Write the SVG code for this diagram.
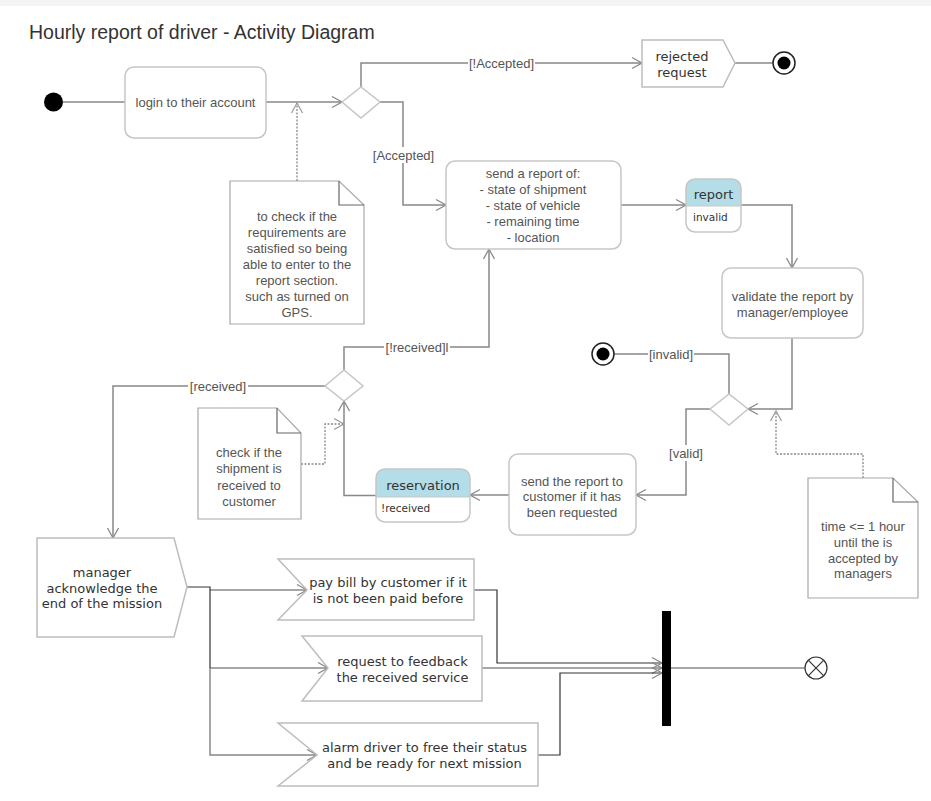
<svg xmlns="http://www.w3.org/2000/svg" width="931" height="801" viewBox="0 0 931 801">
<defs>
<marker id="arr" markerUnits="userSpaceOnUse" markerWidth="14" markerHeight="14" viewBox="0 0 14 14" refX="12" refY="7" orient="auto">
<path d="M2,1.5 L12,7 L2,12.5" fill="none" stroke="#888" stroke-width="1.3"/>
</marker>
<marker id="arrd" markerUnits="userSpaceOnUse" markerWidth="14" markerHeight="14" viewBox="0 0 14 14" refX="12" refY="7" orient="auto">
<path d="M2,1.5 L12,7 L2,12.5" fill="none" stroke="#999" stroke-width="1.2"/>
</marker>
</defs>
<style>
.box{fill:#fff;stroke:#c6c6c6;stroke-width:1.5}
.sig{fill:#fff;stroke:#bdbdbd;stroke-width:1.5}
.note{fill:#fff;stroke:#a8a8a8;stroke-width:1.2}
.fold{fill:none;stroke:#666;stroke-width:1.2}
.t{font-family:"Liberation Sans",Arial,sans-serif;font-size:13px;fill:#555;text-anchor:middle}
.s{font-family:"DejaVu Sans",Verdana,sans-serif;font-size:13px;fill:#333;text-anchor:middle}
.g{font-family:"Liberation Sans",Arial,sans-serif;font-size:13px;fill:#555;text-anchor:middle}
.e{fill:none;stroke:#888;stroke-width:1.5}
.ed{fill:none;stroke:#333;stroke-width:1.2}
.dot{fill:none;stroke:#888;stroke-width:1.3;stroke-dasharray:2,1.5}
.lb{fill:#fff}
</style>
<rect x="0" y="0" width="931" height="801" fill="#fff"/>
<rect x="0" y="0" width="931" height="6" fill="#f3f4f6"/>
<text x="29" y="39" font-family="Liberation Sans,Arial,sans-serif" font-size="19.5" fill="#333">Hourly report of driver - Activity Diagram</text>

<g id="connectors">
<path class="e" d="M63,102 H125"/>
<path class="e" d="M266,102 H342" marker-end="url(#arr)"/>
<path class="dot" d="M297,181 V103" marker-end="url(#arrd)"/>
<path class="e" d="M361,87 V63 H642" marker-end="url(#arr)"/>
<rect class="lb" x="468" y="55" width="67" height="16"/>
<text class="g" x="501.5" y="67.5">[!Accepted]</text>
<path class="e" d="M380,102 H403 V205 H446" marker-end="url(#arr)"/>
<rect class="lb" x="372" y="147" width="63" height="16"/>
<text class="g" x="403.5" y="159.5">[Accepted]</text>
<path class="e" d="M735,63 H773"/>
<path class="e" d="M621,205 H686" marker-end="url(#arr)"/>
<path class="e" d="M741,205 H792 V268" marker-end="url(#arr)"/>
<path class="e" d="M792,338 V409 H748" marker-end="url(#arr)"/>
<path class="dot" d="M863,478 V454 H776 V411" marker-end="url(#arrd)"/>
<path class="e" d="M729,394 V354 H614"/>
<rect class="lb" x="648" y="346" width="46" height="16"/>
<text class="g" x="671" y="358.5">[invalid]</text>
<path class="e" d="M710,409 H686 V495 H636" marker-end="url(#arr)"/>
<rect class="lb" x="667" y="445" width="38" height="16"/>
<text class="g" x="686" y="457.5">[valid]</text>
<path class="e" d="M509,495 H470" marker-end="url(#arr)"/>
<path class="e" d="M376,495.5 H344 V401" marker-end="url(#arr)"/>
<path class="dot" d="M301,464 H325 V424 H344" marker-end="url(#arrd)"/>
<path class="e" d="M344,370 V347 H489 V249" marker-end="url(#arr)"/>
<rect class="lb" x="384" y="339" width="66" height="16"/>
<text class="g" x="417" y="351.5">[!received]l</text>
<path class="e" d="M325,386 H113 V538" marker-end="url(#arr)"/>
<rect class="lb" x="188" y="378" width="60" height="16"/>
<text class="g" x="218" y="390.5">[received]</text>
<path class="e" d="M210,590 H307" marker-end="url(#arr)"/>
<path class="e" d="M210,668 H328" marker-end="url(#arr)"/>
<path class="e" d="M210,668 V755 H317" marker-end="url(#arr)"/>
<path class="ed" d="M187,587 H210 V668" stroke-width="1.8"/>
<path class="ed" d="M474,590 H497 V663 H662" marker-end="url(#arr)"/>
<path class="e" d="M482,668 H662" marker-end="url(#arr)"/>
<path class="ed" d="M538,755 H560 V673 H662" marker-end="url(#arr)"/>
<path class="e" d="M671,668 H805"/>
</g>

<g id="start"><circle cx="53.5" cy="102" r="9.5" fill="#000"/></g>

<g id="login">
<rect class="box" x="125" y="67" width="141" height="71" rx="9"/>
<text class="t" x="195.5" y="106.5">login to their account</text>
</g>

<g id="decision1"><polygon class="box" points="342,102 361,87 380,102 361,118"/></g>

<g id="note1">
<path class="note" d="M230,181 H339 L364,205 V324 H230 Z"/>
<path class="fold" d="M339,181 V205 H364"/>
<text class="t" x="297" y="220.5">to check if the</text>
<text class="t" x="297" y="237">requirements are</text>
<text class="t" x="297" y="253">satisfied so being</text>
<text class="t" x="297" y="269">able to enter to the</text>
<text class="t" x="297" y="285">report section.</text>
<text class="t" x="297" y="301">such as turned on</text>
<text class="t" x="297" y="317">GPS.</text>
</g>

<g id="rejected">
<polygon class="sig" points="642,40 723,40 735,63 723,87 642,87"/>
<text class="s" x="682" y="60.5">rejected</text>
<text class="s" x="682" y="76.5">request</text>
</g>

<g id="final1">
<circle cx="784" cy="63" r="11" fill="#fff" stroke="#222" stroke-width="1.5"/>
<circle cx="784" cy="63" r="6.5" fill="#000"/>
</g>

<g id="sendReport">
<rect class="box" x="446" y="161" width="175" height="88" rx="9"/>
<text class="t" x="533" y="177.5">send a report of:</text>
<text class="t" x="533" y="193.5">- state of shipment</text>
<text class="t" x="533" y="209.5">- state of vehicle</text>
<text class="t" x="533" y="225.5">- remaining time</text>
<text class="t" x="533" y="242">- location</text>
</g>

<g id="report">
<rect x="686" y="179" width="55" height="53" rx="9" fill="#fff"/>
<path d="M686,206 V188 Q686,179 695,179 H732 Q741,179 741,188 V206 Z" fill="#b4dde7"/>
<rect x="686" y="179" width="55" height="53" rx="9" fill="none" stroke="#c6c6c6" stroke-width="1.5"/>
<line x1="686" y1="206" x2="741" y2="206" stroke="#c6c6c6" stroke-width="1"/>
<text class="s" x="713.5" y="198.5">report</text>
<text x="693" y="221" font-family="DejaVu Sans,Verdana,sans-serif" font-size="10.5" fill="#333">invalid</text>
</g>

<g id="validate">
<rect class="box" x="722" y="268" width="141" height="70" rx="9"/>
<text class="t" x="792.5" y="300.5">validate the report by</text>
<text class="t" x="792.5" y="316.5">manager/employee</text>
</g>

<g id="decision2"><polygon class="box" points="710,409 729,394 748,409 729,425"/></g>

<g id="final2">
<circle cx="603" cy="354" r="11" fill="#fff" stroke="#222" stroke-width="1.5"/>
<circle cx="603" cy="354" r="6.5" fill="#000"/>
</g>

<g id="note3">
<path class="note" d="M808,478 H893 L918,502 V598 H808 Z"/>
<path class="fold" d="M893,478 V502 H918"/>
<text class="t" x="863" y="530.5">time &lt;= 1 hour</text>
<text class="t" x="863" y="546.5">until the is</text>
<text class="t" x="863" y="562.5">accepted by</text>
<text class="t" x="863" y="578">managers</text>
</g>

<g id="sendCustomer">
<rect class="box" x="509" y="454" width="127" height="81" rx="9"/>
<text class="t" x="572" y="485.5">send the report to</text>
<text class="t" x="572" y="501">customer if it has</text>
<text class="t" x="572" y="517">been requested</text>
</g>

<g id="reservation">
<rect x="376" y="469" width="94" height="53" rx="9" fill="#fff"/>
<path d="M376,497 V478 Q376,469 385,469 H461 Q470,469 470,478 V497 Z" fill="#b4dde7"/>
<rect x="376" y="469" width="94" height="53" rx="9" fill="none" stroke="#c6c6c6" stroke-width="1.5"/>
<line x1="376" y1="497" x2="470" y2="497" stroke="#c6c6c6" stroke-width="1"/>
<text class="s" x="423" y="489.5">reservation</text>
<text x="381" y="512" font-family="DejaVu Sans,Verdana,sans-serif" font-size="10.5" fill="#333">!received</text>
</g>

<g id="decision3"><polygon class="box" points="325,386 344,370 363,386 344,401"/></g>

<g id="note2">
<path class="note" d="M198,408 H277 L301,433 V519 H198 Z"/>
<path class="fold" d="M277,408 V433 H301"/>
<text class="t" x="249" y="456.5">check if the</text>
<text class="t" x="249" y="472.5">shipment is</text>
<text class="t" x="249" y="489.5">received to</text>
<text class="t" x="249" y="505.5">customer</text>
</g>

<g id="manager">
<polygon class="sig" points="37,538 174,538 187,587 174,637 37,637"/>
<text class="s" x="102" y="576.5">manager</text>
<text class="s" x="102" y="592.5">acknowledge the</text>
<text class="s" x="102" y="608">end of the mission</text>
</g>

<g id="payBill">
<polygon class="sig" points="278,559 474,559 474,620 278,620 307,590"/>
<text class="s" x="388" y="586.5">pay bill by customer if it</text>
<text class="s" x="388" y="602.5">is not been paid before</text>
</g>

<g id="feedback">
<polygon class="sig" points="302,636 482,636 482,701 302,701 328,668"/>
<text class="s" x="402.5" y="665.5">request to feedback</text>
<text class="s" x="402.5" y="681.5">the received service</text>
</g>

<g id="alarm">
<polygon class="sig" points="278,723 538,723 538,786 278,786 317,755"/>
<text class="s" x="424.5" y="751.5">alarm driver to free their status</text>
<text class="s" x="424.5" y="767.5">and be ready for next mission</text>
</g>

<g id="join"><rect x="662" y="611" width="9" height="115" fill="#000"/></g>

<g id="flowFinal">
<circle cx="816" cy="668" r="11" fill="#fff" stroke="#333" stroke-width="1.2"/>
<path d="M808.2,660.2 L823.8,675.8 M823.8,660.2 L808.2,675.8" stroke="#333" stroke-width="1.2"/>
</g>
</svg>
